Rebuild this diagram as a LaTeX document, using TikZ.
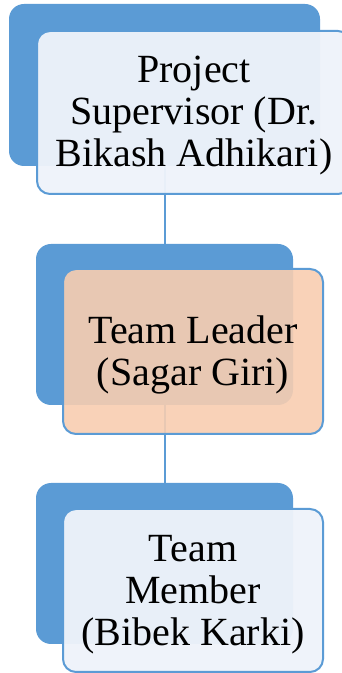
\documentclass[tikz,border=0pt]{standalone}
\usepackage{fontspec}
\setmainfont{Liberation Serif}
\definecolor{accblue}{RGB}{91,155,213}
\definecolor{lightblue}{RGB}{238,243,250}
\definecolor{lightorange}{RGB}{248,205,176}
\begin{document}
\begin{tikzpicture}[x=1pt,y=1pt,
  backbox/.style={draw=none,fill=accblue,rounded corners=15pt,inner sep=0pt,outer sep=0pt},
  frontbox/.style={draw=accblue,line width=2pt,rounded corners=13pt,inner sep=0pt,outer sep=0pt},
  label/.style={align=center,inner sep=0pt,font=\fontsize{40}{42}\selectfont},
  link/.style={draw=accblue,line width=2pt}]
\clip (0,0) rectangle (342,673);
\useasboundingbox (0,0) rectangle (342,673);
\node[backbox,minimum width=311pt,minimum height=162pt] (b1) at (164.5,588) {};
\node[backbox,minimum width=257pt,minimum height=161pt] (b2) at (164.5,348.5) {};
\node[backbox,minimum width=257pt,minimum height=161pt] (b3) at (164.5,109.5) {};
\draw[link] (b1.south) -- (b2.north);
\draw[link] (b2.south) -- (b3.north);
\node[frontbox,fill=lightblue,fill opacity=0.96,minimum width=314pt,minimum height=163pt] (f1) at (194,560.5) {};
\node[frontbox,fill=lightorange,fill opacity=0.9,minimum width=260pt,minimum height=165pt] (f2) at (193,321.5) {};
\node[frontbox,fill=lightblue,fill opacity=0.96,minimum width=260pt,minimum height=163pt] (f3) at (193,82.5) {};
\node[label] (t1) at ([yshift=-3pt]f1.center) {Project\\Supervisor (Dr.\\Bikash Adhikari)};
\node[label] (t2) at ([yshift=-3pt]f2.center) {Team Leader\\(Sagar Giri)};
\node[label] (t3) at ([yshift=-4pt]f3.center) {Team\\Member\\(Bibek Karki)};
\end{tikzpicture}
\end{document}
